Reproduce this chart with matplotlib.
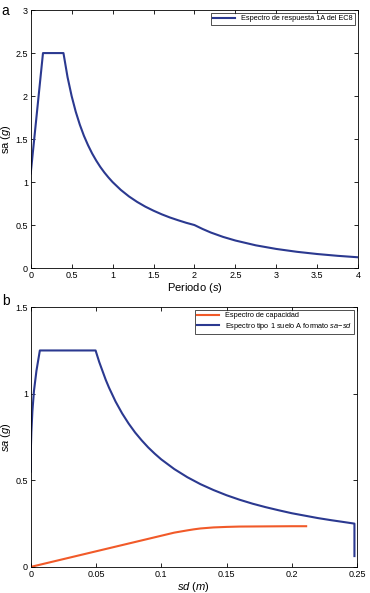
import matplotlib
matplotlib.use("Agg")
import matplotlib.pyplot as plt

plt.rcParams['font.family'] = ['Liberation Sans', 'DejaVu Sans']
plt.rcParams['mathtext.fontset'] = 'custom'
plt.rcParams['mathtext.it'] = 'Liberation Sans:italic'

BLUE = '#2b3990'
ORANGE = '#f15a29'

# (a) espectro de respuesta EC8 tipo 1A
periodo = [0, 0.15, 0.4, 0.45, 0.5, 0.55, 0.6, 0.65, 0.7, 0.75, 0.8, 0.85, 0.9, 0.95, 1.0,
           1.1, 1.2, 1.3, 1.4, 1.5, 1.6, 1.7, 1.8, 1.9, 2.0, 2.1, 2.2, 2.35, 2.5, 2.75,
           3.0, 3.25, 3.5, 3.75, 4.0]
sa_ec8 = [1.1, 2.5, 2.5, 2.22, 2.0, 1.818, 1.667, 1.538, 1.429, 1.333, 1.25, 1.176, 1.111, 1.053, 1.0,
          0.909, 0.833, 0.769, 0.714, 0.667, 0.625, 0.588, 0.556, 0.526, 0.5, 0.454, 0.413, 0.362, 0.32, 0.264,
          0.222, 0.189, 0.163, 0.142, 0.125]

# (b) formato sa-sd
sd_esp = [0, 0.00002, 0.00006, 0.00015, 0.0005, 0.0013, 0.0025, 0.0044, 0.007, 0.0497, 0.0525,
          0.0575, 0.06, 0.065, 0.07, 0.075, 0.08, 0.085, 0.09, 0.095, 0.1, 0.11, 0.12, 0.13,
          0.14, 0.15, 0.16, 0.17, 0.18, 0.19, 0.2, 0.21, 0.22, 0.23, 0.24, 0.248, 0.248]
sa_esp = [0.55, 0.6, 0.643, 0.69, 0.78, 0.9, 1.017, 1.133, 1.25, 1.25, 1.183,
          1.08, 1.035, 0.955, 0.887, 0.828, 0.776, 0.731, 0.69, 0.654, 0.621, 0.565, 0.518, 0.478,
          0.444, 0.414, 0.388, 0.365, 0.345, 0.327, 0.31, 0.296, 0.282, 0.27, 0.259, 0.25, 0.0625]

sd_cap = [0, 0.02, 0.04, 0.06, 0.08, 0.1, 0.11, 0.12, 0.125, 0.13, 0.135, 0.14, 0.15, 0.16,
          0.18, 0.2, 0.211]
sa_cap = [0, 0.036, 0.072, 0.108, 0.144, 0.18, 0.198, 0.211, 0.217, 0.222, 0.225, 0.228, 0.231, 0.233,
          0.234, 0.235, 0.235]

fig = plt.figure(figsize=(3.7, 5.93), dpi=100)
ax1 = fig.add_axes([0.083, 0.548, 0.885, 0.435])
ax2 = fig.add_axes([0.083, 0.044, 0.882, 0.438])

for ax in (ax1, ax2):
    ax.tick_params(direction='in', top=True, right=True, labelsize=6.5, length=3, width=0.6, pad=2)
    for s in ax.spines.values():
        s.set_linewidth(0.6)

ax1.plot(periodo, sa_ec8, color=BLUE, lw=1.5, label='Espectro de respuesta 1A del EC8')
ax1.set_xlim(0, 4)
ax1.set_ylim(0, 3)
ax1.set_xticks([0, 0.5, 1, 1.5, 2, 2.5, 3, 3.5, 4])
ax1.set_xticklabels(['0', '0.5', '1', '1.5', '2', '2.5', '3', '3.5', '4'])
ax1.set_yticks([0, 0.5, 1, 1.5, 2, 2.5, 3])
ax1.set_yticklabels(['0', '0.5', '1', '1.5', '2', '2.5', '3'])
ax1.set_xlabel('Periodo ($s$)', fontsize=8, labelpad=1)
ax1.set_ylabel('sa ($g$)', fontsize=8, labelpad=2)
ax1.legend(loc='upper right', fontsize=5.3, frameon=True, fancybox=False, edgecolor='black',
           handlelength=3, borderpad=0.3, borderaxespad=0.4).get_frame().set_linewidth(0.6)

ax2.plot(sd_cap, sa_cap, color=ORANGE, lw=1.5, label='Espectro de capacidad')
ax2.plot(sd_esp, sa_esp, color=BLUE, lw=1.5, label='Espectro tipo 1 suelo A formato $sa$\u2212$sd$')
ax2.set_xlim(0, 0.25)
ax2.set_ylim(0, 1.5)
ax2.set_xticks([0, 0.05, 0.1, 0.15, 0.2, 0.25])
ax2.set_xticklabels(['0', '0.05', '0.1', '0.15', '0.2', '0.25'])
ax2.set_yticks([0, 0.5, 1, 1.5])
ax2.set_yticklabels(['0', '0.5', '1', '1.5'])
ax2.set_xlabel('$sd$ ($m$)', fontsize=8, labelpad=1)
ax2.set_ylabel('$sa$ ($g$)', fontsize=8, labelpad=2)
ax2.legend(loc='upper right', fontsize=5.3, frameon=True, fancybox=False, edgecolor='black',
           handlelength=3, borderpad=0.3, labelspacing=0.2,
           borderaxespad=0.4).get_frame().set_linewidth(0.6)

fig.text(0.005, 0.975, 'a', fontsize=10)
fig.text(0.005, 0.485, 'b', fontsize=10)

fig.savefig('out.png', dpi=100)
